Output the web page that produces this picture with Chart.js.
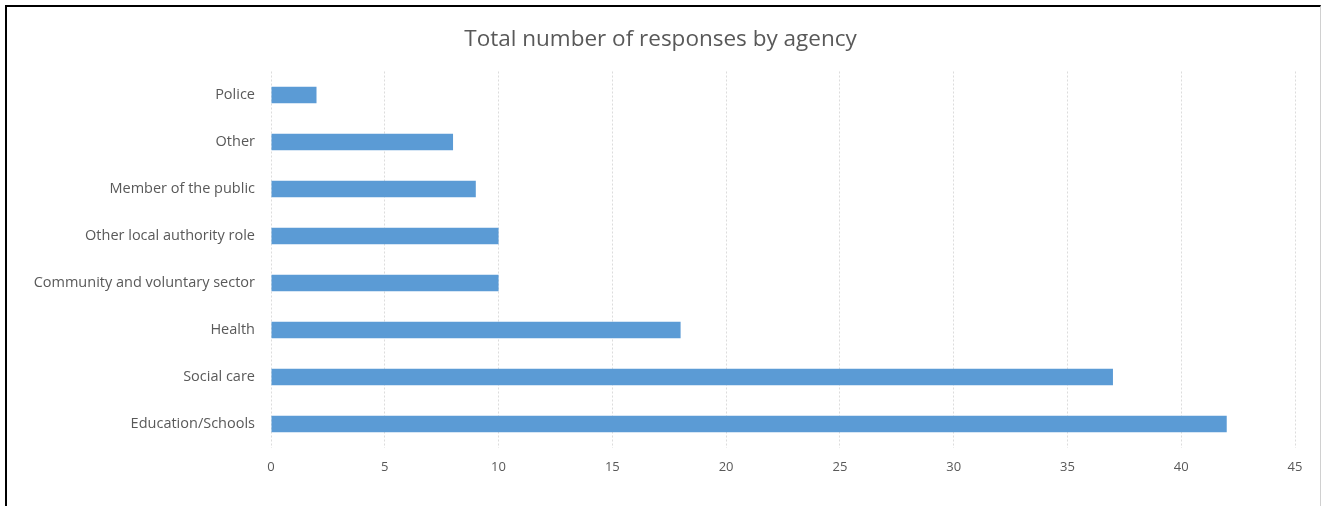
<!DOCTYPE html>
<html>
<head>
<meta charset="utf-8">
<script src="https://cdn.jsdelivr.net/npm/chart.js@4/dist/chart.umd.min.js"></script>
<style>
  html, body { margin: 0; padding: 0; background: #fff; }
  #wrap { position: relative; width: 1321px; height: 506px; }
  #frame {
    position: absolute; left: 5px; top: 5px; width: 1313px; height: 510px;
    border-left: 2px solid #000; border-top: 2px solid #000; border-right: 1px solid #d0d0d0;
    pointer-events: none;
  }
</style>
</head>
<body>
<div id="wrap">
  <canvas id="chart" width="1321" height="506"></canvas>
  <div id="frame"></div>
</div>
<script>
// Responses per agency, top to bottom as in the chart
const agencies = [
  'Police',
  'Other',
  'Member of the public',
  'Other local authority role',
  'Community and voluntary sector',
  'Health',
  'Social care',
  'Education/Schools'
];
const responses = [2, 8, 9, 10, 10, 18, 37, 42];

const TEXT = '#595959';
const BAR = '#5b9bd5';
const GRID = '#dcdcdc';
const FONT = "'Open Sans', sans-serif";

new Chart(document.getElementById('chart').getContext('2d'), {
  type: 'bar',
  data: {
    labels: agencies,
    datasets: [{
      data: responses,
      backgroundColor: BAR,
      borderWidth: 0,
      categoryPercentage: 1,
      barPercentage: 0.35
    }]
  },
  options: {
    indexAxis: 'y',
    responsive: false,
    animation: false,
    layout: { padding: { left: 26, right: 26, top: 0, bottom: 0 } },
    plugins: {
      legend: { display: false },
      tooltip: { enabled: false },
      title: {
        display: true,
        text: 'Total number of responses by agency',
        color: TEXT,
        font: { family: FONT, size: 22.5, weight: 'normal', lineHeight: 1.2 },
        padding: { top: 26.5, bottom: 18 }
      }
    },
    scales: {
      x: {
        min: 0,
        max: 45,
        ticks: { stepSize: 5, color: TEXT, font: { family: FONT, size: 13 }, padding: 12 },
        grid: { color: GRID, drawTicks: false, lineWidth: 1 },
        border: { display: false, dash: [2, 2] },
        afterFit: s => { s.height = 58.5; }
      },
      y: {
        ticks: { color: TEXT, font: { family: FONT, size: 14.5 }, padding: 16 },
        grid: { display: false, drawTicks: false },
        border: { display: false },
        afterFit: s => { s.width = 245; }
      }
    }
  }
});
</script>
</body>
</html>
